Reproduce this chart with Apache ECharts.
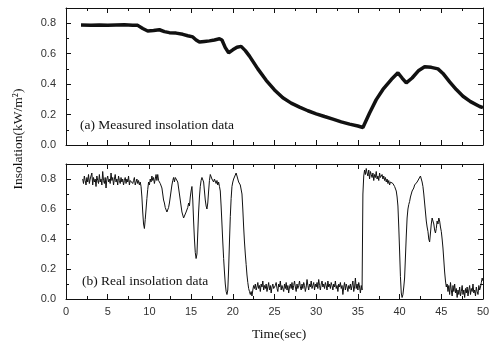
<!DOCTYPE html>
<html>
<head>
<meta charset="utf-8">
<script src="https://cdn.jsdelivr.net/npm/echarts@6/dist/echarts.min.js"></script>
<style>
  html, body { margin: 0; padding: 0; background: #fff; }
  #chart { width: 498px; height: 341px; }
</style>
</head>
<body>
<div id="chart"></div>
<script>
// (a) measured insolation: [time sec, kW/m2]
const measured = [
  [1.8, 0.788], [3, 0.787], [4, 0.789], [5, 0.786], [6, 0.788], [7, 0.790], [8, 0.787],
  [8.6, 0.786], [9.2, 0.765], [9.8, 0.749], [10.5, 0.752], [11.2, 0.757], [11.8, 0.745],
  [12.4, 0.738], [13.2, 0.735], [14.0, 0.727], [14.6, 0.718], [15.2, 0.710], [15.6, 0.690],
  [16.0, 0.676], [16.6, 0.680], [17.2, 0.684], [17.8, 0.690], [18.4, 0.698], [18.7, 0.690],
  [19.1, 0.640], [19.5, 0.606], [20.0, 0.625], [20.5, 0.642], [21.0, 0.648], [21.5, 0.620],
  [22, 0.584], [23, 0.500], [24, 0.425], [25, 0.362], [26, 0.310], [27, 0.275], [28, 0.249],
  [29, 0.225], [30, 0.205], [31, 0.187], [32, 0.170], [33, 0.152], [34, 0.137], [35, 0.125],
  [35.6, 0.115], [36.4, 0.210], [37.2, 0.298], [38, 0.365], [39, 0.430], [39.8, 0.474],
  [40.3, 0.440], [40.8, 0.408], [41.5, 0.440], [42.3, 0.490], [43.0, 0.514], [43.8, 0.510],
  [44.6, 0.500], [45.2, 0.470], [46, 0.415], [46.8, 0.364], [47.6, 0.320], [48.5, 0.285],
  [49.6, 0.253], [50, 0.245]
];

// (b) real insolation, sampled every 0.1 s from 2.0 s
const realStart = 2.0;
const realStep = 0.1;
const real = [
  0.80,0.77,0.82,0.79,0.76,0.81,0.78,0.83,0.77,0.80,
  0.79,0.84,0.76,0.81,0.78,0.80,0.75,0.82,0.79,0.77,
  0.83,0.78,0.80,0.76,0.85,0.79,0.77,0.81,0.74,0.80,
  0.82,0.78,0.80,0.77,0.84,0.79,0.81,0.76,0.80,0.83,
  0.78,0.80,0.76,0.82,0.79,0.77,0.81,0.78,0.80,0.76,
  0.79,0.81,0.77,0.80,0.78,0.82,0.76,0.79,0.78,0.80,
  0.77,0.79,0.81,0.76,0.78,0.80,0.77,0.79,0.76,0.78,
  0.75,0.68,0.58,0.50,0.47,0.53,0.60,0.67,0.73,0.78,
  0.76,0.80,0.78,0.82,0.79,0.81,0.77,0.80,0.83,0.79,
  0.83,0.79,0.80,0.77,0.78,0.74,0.70,0.66,0.64,0.61,
  0.62,0.58,0.57,0.61,0.64,0.68,0.72,0.76,0.79,0.81,
  0.78,0.81,0.82,0.80,0.78,0.74,0.70,0.66,0.62,0.58,
  0.56,0.54,0.53,0.55,0.58,0.57,0.61,0.64,0.62,0.68,
  0.72,0.75,0.66,0.52,0.40,0.31,0.27,0.30,0.44,0.58,
  0.68,0.75,0.79,0.81,0.82,0.78,0.72,0.66,0.62,0.60,
  0.64,0.72,0.79,0.83,0.82,0.80,0.81,0.78,0.80,0.79,
  0.77,0.79,0.76,0.78,0.75,0.72,0.62,0.50,0.38,0.27,
  0.18,0.10,0.05,0.03,0.06,0.20,0.38,0.55,0.67,0.75,
  0.78,0.80,0.81,0.79,0.84,0.82,0.80,0.78,0.79,0.76,
  0.76,0.70,0.60,0.48,0.38,0.30,0.23,0.16,0.11,0.07,
  0.05,0.03,0.05,0.02,0.06,0.09,0.07,0.10,0.06,0.08,
  0.11,0.07,0.09,0.05,0.10,0.08,0.12,0.06,0.09,0.07,
  0.10,0.05,0.08,0.11,0.06,0.09,0.04,0.08,0.10,0.07,
  0.06,0.09,0.11,0.07,0.05,0.10,0.08,0.12,0.06,0.09,
  0.08,0.05,0.10,0.07,0.11,0.06,0.09,0.04,0.08,0.10,
  0.07,0.11,0.06,0.09,0.12,0.08,0.05,0.10,0.07,0.09,
  0.12,0.08,0.06,0.10,0.07,0.11,0.09,0.05,0.08,0.13,
  0.09,0.06,0.10,0.08,0.12,0.07,0.09,0.11,0.06,0.10,
  0.08,0.11,0.07,0.13,0.09,0.06,0.10,0.12,0.08,0.10,
  0.07,0.11,0.09,0.06,0.12,0.08,0.10,0.07,0.11,0.09,
  0.06,0.10,0.08,0.12,0.07,0.09,0.05,0.10,0.08,0.11,
  0.07,0.09,0.03,0.08,0.11,0.06,0.10,0.08,0.05,0.09,
  0.07,0.10,0.06,0.09,0.12,0.05,0.08,0.14,0.07,0.10,
  0.06,0.11,0.08,0.04,0.09,0.06,0.70,0.82,0.86,0.83,
  0.87,0.84,0.82,0.86,0.80,0.85,0.83,0.81,0.84,0.79,
  0.83,0.81,0.85,0.80,0.82,0.79,0.84,0.81,0.80,0.83,
  0.80,0.82,0.79,0.81,0.78,0.80,0.77,0.79,0.76,0.78,
  0.78,0.79,0.77,0.76,0.75,0.74,0.72,0.68,0.62,0.48,
  0.32,0.15,0.04,0.01,0.03,0.08,0.14,0.28,0.42,0.54,
  0.60,0.63,0.65,0.68,0.70,0.72,0.71,0.74,0.76,0.77,
  0.76,0.78,0.79,0.80,0.81,0.82,0.81,0.78,0.75,0.70,
  0.64,0.58,0.52,0.48,0.45,0.40,0.38,0.44,0.50,0.54,
  0.54,0.50,0.46,0.44,0.47,0.52,0.50,0.54,0.52,0.48,
  0.45,0.40,0.34,0.26,0.18,0.12,0.08,0.10,0.05,0.09,
  0.03,0.11,0.06,0.02,0.09,0.05,0.10,0.04,0.07,0.01,
  0.06,0.03,0.08,0.02,0.05,0.09,0.03,0.06,0.01,0.07,
  0.04,0.08,0.02,0.06,0.09,0.03,0.07,0.05,0.10,0.04,
  0.06,0.02,0.08,0.05,0.03,0.09,0.06,0.08,0.11,0.14,
  0.12
];

const xMin = 0, xMax = 50, xStep = 5;
const yMin = 0, yMax = 0.9, yStep = 0.2;

const ink = "#111";
const labelFont = { color: "#333", fontFamily: "Liberation Sans", fontSize: 11 };

function xAxisFor(gridIndex, position, showLabels) {
  return {
    type: "value", gridIndex, position, min: xMin, max: xMax, interval: xStep,
    axisLine: { show: true, onZero: false, lineStyle: { color: ink, width: 1 } },
    axisTick: { show: true, inside: true, length: 5, lineStyle: { color: ink } },
    minorTick: { show: true, splitNumber: 2, length: 3, lineStyle: { color: ink } },
    axisLabel: showLabels ? Object.assign({ margin: 7 }, labelFont) : { show: false },
    splitLine: { show: false }
  };
}

function yAxisFor(gridIndex, position, showLabels) {
  return {
    type: "value", gridIndex, position, min: yMin, max: yMax, interval: yStep,
    axisLine: { show: true, onZero: false, lineStyle: { color: ink, width: 1 } },
    axisTick: { show: true, inside: true, length: 5, lineStyle: { color: ink } },
    minorTick: { show: true, splitNumber: 2, length: 3, lineStyle: { color: ink } },
    axisLabel: showLabels
      ? Object.assign({ margin: 10, showMaxLabel: false, formatter: v => v.toFixed(1) }, labelFont)
      : { show: false },
    splitLine: { show: false }
  };
}

const chart = echarts.init(document.getElementById("chart"));
chart.setOption({
  animation: false,
  backgroundColor: "#fff",
  grid: [
    { left: 66, right: 15, top: 8, height: 137 },
    { left: 66, right: 15, top: 164, height: 135 }
  ],
  xAxis: [
    xAxisFor(0, "bottom", false),
    xAxisFor(0, "top", false),
    xAxisFor(1, "bottom", true),
    xAxisFor(1, "top", false)
  ],
  yAxis: [
    yAxisFor(0, "left", true),
    yAxisFor(0, "right", false),
    yAxisFor(1, "left", true),
    yAxisFor(1, "right", false)
  ],
  series: [
    {
      type: "line", xAxisIndex: 0, yAxisIndex: 0, showSymbol: false,
      data: measured,
      lineStyle: { color: ink, width: 3.5 }
    },
    {
      type: "line", xAxisIndex: 2, yAxisIndex: 2, showSymbol: false,
      data: real.map((v, i) => [+(realStart + i * realStep).toFixed(1), v]),
      lineStyle: { color: ink, width: 1 }
    }
  ],
  graphic: [
    {
      type: "text", x: 18, y: 139, rotation: Math.PI / 2,
      style: { text: "Insolation(kW/m²)", font: "13.5px 'Liberation Serif'", fill: ink,
               textAlign: "center", textVerticalAlign: "middle" }
    },
    {
      type: "text", x: 279, y: 334,
      style: { text: "Time(sec)", font: "13.5px 'Liberation Serif'", fill: ink,
               textAlign: "center", textVerticalAlign: "middle" }
    },
    {
      type: "text", x: 80, y: 125,
      style: { text: "(a) Measured insolation data", font: "13.5px 'Liberation Serif'", fill: ink,
               textAlign: "left", textVerticalAlign: "middle" }
    },
    {
      type: "text", x: 82, y: 281,
      style: { text: "(b) Real insolation data", font: "13.5px 'Liberation Serif'", fill: ink,
               textAlign: "left", textVerticalAlign: "middle" }
    }
  ]
});
</script>
</body>
</html>
